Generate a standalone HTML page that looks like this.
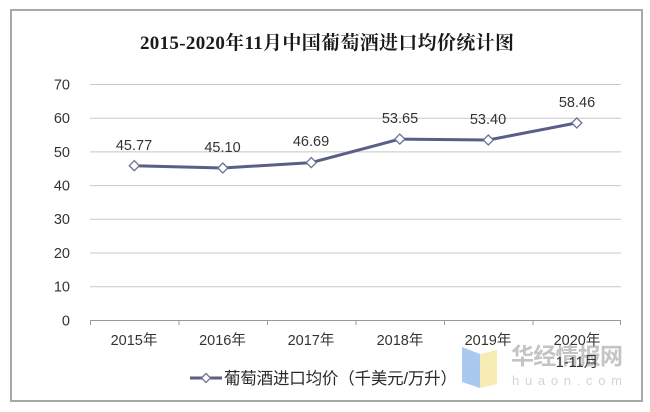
<!DOCTYPE html>
<html>
<head>
<meta charset="utf-8">
<style>
  html,body{margin:0;padding:0;background:#fff;}
  svg{display:block;}
  .ax{font-family:"Liberation Sans","Noto Sans CJK SC",sans-serif;font-size:14.5px;fill:#333;}
</style>
</head>
<body>
<svg width="650" height="412" viewBox="0 0 650 412" xmlns="http://www.w3.org/2000/svg">
  <rect x="0" y="0" width="650" height="412" fill="#fff"/>
  <rect x="11" y="10" width="631" height="391" fill="#fff" stroke="#a8a8a8" stroke-width="2"/>

  <text x="327" y="49" text-anchor="middle" font-family="'Liberation Serif','Noto Serif CJK SC',serif" font-weight="bold" font-size="19" fill="#1a1a1a" textLength="374">2015-2020年11月中国葡萄酒进口均价统计图</text>

  <!-- gridlines -->
  <g stroke="#c8c8c8" stroke-width="1">
    <line x1="90" y1="84.5" x2="621" y2="84.5"/>
    <line x1="90" y1="118.2" x2="621" y2="118.2"/>
    <line x1="90" y1="151.9" x2="621" y2="151.9"/>
    <line x1="90" y1="185.6" x2="621" y2="185.6"/>
    <line x1="90" y1="219.3" x2="621" y2="219.3"/>
    <line x1="90" y1="253" x2="621" y2="253"/>
    <line x1="90" y1="286.7" x2="621" y2="286.7"/>
  </g>
  <!-- x axis -->
  <g stroke="#9a9a9a" stroke-width="1">
    <line x1="90" y1="320.5" x2="621" y2="320.5"/>
    <line x1="90.5" y1="320" x2="90.5" y2="325"/>
    <line x1="179" y1="320" x2="179" y2="325"/>
    <line x1="267.5" y1="320" x2="267.5" y2="325"/>
    <line x1="356" y1="320" x2="356" y2="325"/>
    <line x1="444.5" y1="320" x2="444.5" y2="325"/>
    <line x1="533" y1="320" x2="533" y2="325"/>
    <line x1="620.5" y1="320" x2="620.5" y2="325"/>
  </g>

  <!-- y labels -->
  <g class="ax" text-anchor="end">
    <text x="70" y="89.5">70</text>
    <text x="70" y="123">60</text>
    <text x="70" y="157">50</text>
    <text x="70" y="190.5">40</text>
    <text x="70" y="224">30</text>
    <text x="70" y="258">20</text>
    <text x="70" y="291.5">10</text>
    <text x="70" y="325.5">0</text>
  </g>

  <!-- watermark -->
  <polygon points="462,347 480,354 480,388 462,382" fill="#a9c9f0"/>
  <polygon points="480,354 497,350 497,384 480,388" fill="#f6ebb2"/>
  <text x="511" y="364" font-family="'Noto Sans CJK SC',sans-serif" font-size="23" font-weight="bold" fill="#c4c4c4" textLength="112">华经情报网</text>
  <text x="512" y="385" font-family="'Liberation Sans',sans-serif" font-size="13" fill="#d4d4d4" textLength="110">huaon.com</text>

  <!-- x labels -->
  <g class="ax" text-anchor="middle">
    <text x="134" y="345">2015年</text>
    <text x="222.5" y="345">2016年</text>
    <text x="311" y="345">2017年</text>
    <text x="400" y="345">2018年</text>
    <text x="488" y="345">2019年</text>
    <text x="577" y="345">2020年</text>
    <text x="577" y="367">1-11月</text>
  </g>

  <!-- series -->
  <polyline points="134.3,165.7 222.8,168 311.3,162.6 399.8,139.1 488.3,140 576.8,122.9" fill="none" stroke="#5a5f87" stroke-width="3" stroke-linejoin="round"/>
  <g fill="#fff" stroke="#6c7194" stroke-width="1.3">
    <polygon points="134.3,160.7 139.3,165.7 134.3,170.7 129.3,165.7"/>
    <polygon points="222.8,163 227.8,168 222.8,173 217.8,168"/>
    <polygon points="311.3,157.6 316.3,162.6 311.3,167.6 306.3,162.6"/>
    <polygon points="399.8,134.1 404.8,139.1 399.8,144.1 394.8,139.1"/>
    <polygon points="488.3,135 493.3,140 488.3,145 483.3,140"/>
    <polygon points="576.8,117.9 581.8,122.9 576.8,127.9 571.8,122.9"/>
  </g>

  <!-- data labels -->
  <g class="ax" text-anchor="middle">
    <text x="134" y="150">45.77</text>
    <text x="222.5" y="152">45.10</text>
    <text x="311" y="146">46.69</text>
    <text x="400" y="123">53.65</text>
    <text x="488" y="124">53.40</text>
    <text x="577" y="107">58.46</text>
  </g>

  <!-- legend -->
  <line x1="190" y1="378" x2="222" y2="378" stroke="#5a5f87" stroke-width="3"/>
  <polygon points="206,373.5 210.5,378 206,382.5 201.5,378" fill="#fff" stroke="#6c7194" stroke-width="1.3"/>
  <text x="224" y="384" font-family="'Liberation Sans','Noto Sans CJK SC',sans-serif" font-size="16.5" fill="#2a2a2a" textLength="233">葡萄酒进口均价（千美元/万升）</text>
</svg>
</body>
</html>
